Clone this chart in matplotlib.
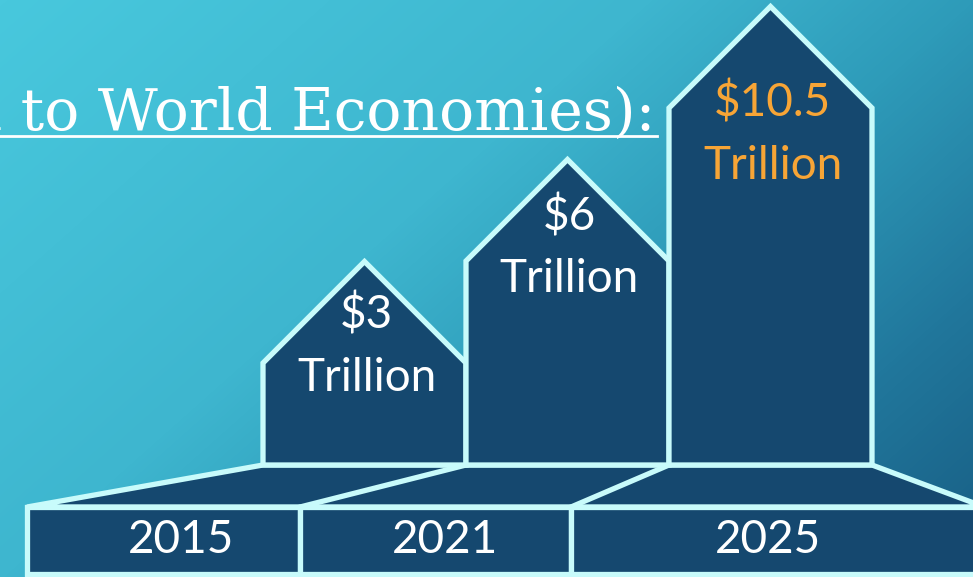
import numpy as np
import matplotlib.pyplot as plt
from matplotlib.colors import LinearSegmentedColormap
from matplotlib.patches import Polygon

# values in trillions of dollars
years = ['2015', '2021', '2025']
values = [3, 6, 10.5]
value_text = ['$3', '$6', '$10.5']
label_colors = ['white', 'white', '#f7a536']

W, H = 973, 577
BASE = 465          # pixel row of the house floors
PX_PER_T = 34.0     # pixels per trillion for the wall height
HOUSE_W = 203
HOUSE_X0 = 263
FRONT_TOP = 507
front_edges = [27, 300, 571, 1000]
year_x = [181, 445, 768]
label_dy = [-48, -45, -5]   # $ line offset from the shoulder line

EDGE = '#c8fbfb'
FILL = '#15486f'
LW = 3.8

fig = plt.figure(figsize=(W / 100, H / 100), dpi=100)
ax = fig.add_axes([0, 0, 1, 1])
ax.set_xlim(0, W)
ax.set_ylim(H, 0)
ax.axis('off')

# background gradient, light top-left to dark bottom-right
yy, xx = np.mgrid[0:H, 0:W]
t = 0.6 * xx / W + 0.4 * yy / H
cmap = LinearSegmentedColormap.from_list('bg', [
    (0.0, '#48c8dd'), (0.4, '#3eb6cf'), (0.6, '#2e9bb9'),
    (0.8, '#21789d'), (1.0, '#185d83')])
ax.imshow(t, cmap=cmap, extent=(0, W, H, 0), aspect='auto', zorder=0)

# title (runs off the left edge)
ax.text(655, 130, '(Contribution to World Economies):', ha='right', va='baseline',
        fontsize=42, color='white', family='DejaVu Serif', zorder=2)
ax.plot([0, 657], [136, 136], color='white', lw=2, zorder=2)

# platform top surface
back_x = [HOUSE_X0 + i * HOUSE_W for i in range(len(values) + 1)]
top_poly = [(front_edges[0], FRONT_TOP), (back_x[0], BASE), (back_x[-1], BASE),
            (back_x[-1] + 150, BASE + 56), (W + 40, FRONT_TOP)]
ax.add_patch(Polygon(top_poly, closed=True, fc=FILL, ec=EDGE, lw=LW, zorder=3))
for bx, fx in zip(back_x[1:-1], front_edges[1:-1]):
    ax.plot([bx, fx], [BASE, FRONT_TOP], color=EDGE, lw=LW, zorder=3,
            solid_capstyle='round')

# front strip with the years
for i, yr in enumerate(years):
    x0, x1 = front_edges[i], front_edges[i + 1]
    ax.add_patch(Polygon([(x0, FRONT_TOP), (x1, FRONT_TOP), (x1, 574), (x0, 574)],
                         closed=True, fc=FILL, ec=EDGE, lw=LW, zorder=4))
    ax.text(year_x[i], 540, yr, ha='center', va='center', fontsize=33,
            color='white', family='Lato', zorder=5)

# houses
for i, v in enumerate(values):
    x0 = back_x[i]
    x1 = x0 + HOUSE_W
    shoulder = BASE - v * PX_PER_T
    peak = shoulder - HOUSE_W / 2
    pts = [(x0, BASE), (x0, shoulder), ((x0 + x1) / 2, peak), (x1, shoulder), (x1, BASE)]
    ax.add_patch(Polygon(pts, closed=True, fc=FILL, ec=EDGE, lw=LW, zorder=6,
                         joinstyle='miter'))
    cx = (x0 + x1) / 2 + 2
    ax.text(cx, shoulder + label_dy[i], value_text[i].replace('$', r'\$'),
            ha='center', va='center', fontsize=33, color=label_colors[i],
            family='Lato', zorder=7)
    ax.text(cx, shoulder + label_dy[i] + 63, 'Trillion', ha='center', va='center',
            fontsize=33, color=label_colors[i], family='Lato', zorder=7)

fig.savefig('out.png', dpi=100)
